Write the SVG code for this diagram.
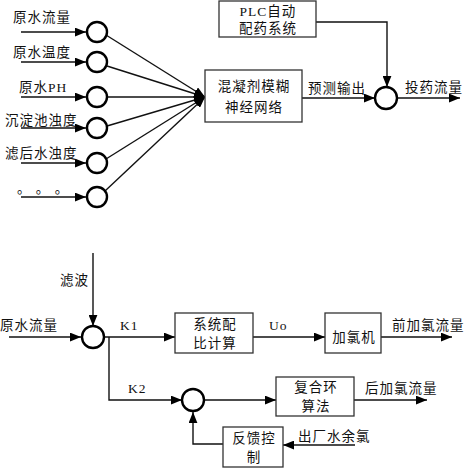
<svg xmlns="http://www.w3.org/2000/svg" width="468" height="468" viewBox="0 0 468 468">
<style>
text{font-family:"Liberation Serif","Noto Sans CJK SC",serif;font-size:13.5px;fill:#111;letter-spacing:1px}
.c{text-anchor:middle}
.ln{fill:none;stroke:#111;stroke-width:1.4}
.box{fill:#fff;stroke:#333;stroke-width:1.3}
.ci{fill:#fff;stroke:#000;stroke-width:2.4}
</style>
<defs>
<marker id="a" viewBox="0 0 10 8" refX="10" refY="4" markerWidth="11" markerHeight="9" orient="auto" markerUnits="userSpaceOnUse"><path d="M0,0 L10,4 L0,8 z" fill="#000"/></marker>
</defs>
<g id="connectors">
<path class="ln" d="M21,32 H86" marker-end="url(#a)"/>
<path class="ln" d="M21,62 H86" marker-end="url(#a)"/>
<path class="ln" d="M21,97 H86" marker-end="url(#a)"/>
<path class="ln" d="M21,128 H86" marker-end="url(#a)"/>
<path class="ln" d="M21,163 H86" marker-end="url(#a)"/>
<path class="ln" d="M21,197 H86" marker-end="url(#a)"/>
<path class="ln" d="M106,35 L205,97" marker-end="url(#a)"/>
<path class="ln" d="M107,66 L205,97" marker-end="url(#a)"/>
<path class="ln" d="M107,97 L205,97" marker-end="url(#a)"/>
<path class="ln" d="M107,126 L205,97" marker-end="url(#a)"/>
<path class="ln" d="M106,159 L205,97" marker-end="url(#a)"/>
<path class="ln" d="M105,191 L205,97" marker-end="url(#a)"/>
<path class="ln" d="M302,98 H375" marker-end="url(#a)"/>
<path class="ln" d="M316,22 H387 V87" marker-end="url(#a)"/>
<path class="ln" d="M397,98 H460" marker-end="url(#a)"/>
<path class="ln" d="M93,253 V326" marker-end="url(#a)"/>
<path class="ln" d="M9,337 H81" marker-end="url(#a)"/>
<path class="ln" d="M104,337 H175" marker-end="url(#a)"/>
<path class="ln" d="M253,337 H325" marker-end="url(#a)"/>
<path class="ln" d="M381,337 H452" marker-end="url(#a)"/>
<path class="ln" d="M109,337 V400 H182" marker-end="url(#a)"/>
<path class="ln" d="M205,400 H276" marker-end="url(#a)"/>
<path class="ln" d="M354,400 H427" marker-end="url(#a)"/>
<path class="ln" d="M355,445 H283" marker-end="url(#a)"/>
<path class="ln" d="M223,444 H193 V412" marker-end="url(#a)"/>
</g>
<g id="labels">
<text x="13" y="22">原水流量</text>
<text x="13" y="57">原水温度</text>
<text x="19" y="92">原水PH</text>
<text x="5" y="125">沉淀池浊度</text>
<text x="5" y="158">滤后水浊度</text>
<text x="17" y="193">。 。 。</text>
<text x="308" y="93">预测输出</text>
<text x="405" y="92">投药流量</text>
<text x="60" y="285">滤波</text>
<text x="0" y="330">原水流量</text>
<text x="120" y="330">K1</text>
<text x="269" y="330">Uo</text>
<text x="392" y="330">前加氯流量</text>
<text x="128" y="393">K2</text>
<text x="365" y="393">后加氯流量</text>
<text x="298" y="441">出厂水余氯</text>
</g>
<g id="n1"><circle class="ci" cx="97" cy="32" r="10"/></g>
<g id="n2"><circle class="ci" cx="97" cy="62" r="10"/></g>
<g id="n3"><circle class="ci" cx="97" cy="97" r="10"/></g>
<g id="n4"><circle class="ci" cx="97" cy="128" r="10"/></g>
<g id="n5"><circle class="ci" cx="97" cy="163" r="10"/></g>
<g id="n6"><circle class="ci" cx="97" cy="197" r="10"/></g>
<g id="fnn"><rect class="box" x="205" y="70" width="97" height="52"/><text class="c" x="254" y="91">混凝剂模糊</text><text class="c" x="254" y="112">神经网络</text></g>
<g id="plc"><rect class="box" x="219" y="1" width="97" height="36"/><text class="c" x="268" y="16">PLC自动</text><text class="c" x="268" y="33">配药系统</text></g>
<g id="sum1"><circle class="ci" cx="386" cy="98" r="11"/></g>
<g id="sum2"><circle class="ci" cx="93" cy="337" r="11"/></g>
<g id="ratio"><rect class="box" x="175" y="313" width="78" height="40"/><text class="c" x="215" y="329">系统配</text><text class="c" x="215" y="348">比计算</text></g>
<g id="chlor"><rect class="box" x="325" y="313" width="56" height="40"/><text class="c" x="354" y="342">加氯机</text></g>
<g id="sum3"><circle class="ci" cx="193" cy="400" r="11"/></g>
<g id="comp"><rect class="box" x="276" y="377" width="78" height="39"/><text class="c" x="316" y="392">复合环</text><text class="c" x="316" y="411">算法</text></g>
<g id="fb"><rect class="box" x="223" y="427" width="60" height="40"/><text class="c" x="254" y="443">反馈控</text><text class="c" x="254" y="462">制</text></g>
</svg>
